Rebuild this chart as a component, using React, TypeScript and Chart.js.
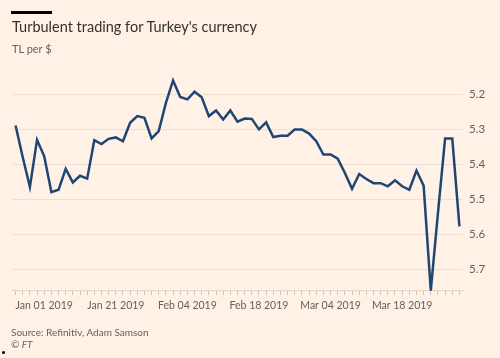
import React, { useEffect, useRef } from "react";
import { Chart, registerables } from "chart.js";

Chart.register(...registerables);

// TL per $ — one value per trading day (Jan – late Mar 2019)
const values: number[] = [
  5.289, 5.38, 5.465, 5.33, 5.377, 5.48, 5.473, 5.413, 5.452, 5.433,
  5.441, 5.331, 5.342, 5.327, 5.323, 5.334, 5.281, 5.262, 5.267, 5.326,
  5.305, 5.224, 5.16, 5.207, 5.214, 5.192, 5.208, 5.262, 5.246, 5.272,
  5.246, 5.278, 5.269, 5.27, 5.3, 5.28, 5.322, 5.318, 5.318, 5.3,
  5.3, 5.312, 5.334, 5.372, 5.372, 5.384, 5.425, 5.47, 5.428, 5.442,
  5.454, 5.454, 5.463, 5.446, 5.463, 5.473, 5.418, 5.461, 5.762, 5.54,
  5.326, 5.326, 5.578,
];

// x tick labels and the trading-day index each one sits on
const xTickLabels: string[] = [
  "Jan 01 2019",
  "Jan 21 2019",
  "Feb 04 2019",
  "Feb 18 2019",
  "Mar 04 2019",
  "Mar 18 2019",
];
const xTickIndex: number[] = [4, 14, 24, 34, 44, 54];

const yTicks: number[] = [5.2, 5.3, 5.4, 5.5, 5.6, 5.7];

const categories: string[] = values.map((_, i) => {
  const k = xTickIndex.indexOf(i);
  return k >= 0 ? xTickLabels[k] : "";
});

const FONT = "Lato, 'Open Sans', sans-serif";
const BG = "#FFF1E5";
const GREY = "#66605C";

export default function App() {
  const ref = useRef<HTMLCanvasElement | null>(null);

  useEffect(() => {
    document.body.style.margin = "0";
    const ctx = ref.current;
    if (!ctx) return;
    const chart = new Chart(ctx, {
      type: "line",
      data: {
        labels: categories,
        datasets: [
          {
            data: values,
            borderColor: "#1f4673",
            borderWidth: 2.5,
            pointRadius: 0,
            tension: 0,
            fill: false,
            clip: false as any,
          },
        ],
      },
      options: {
        responsive: false,
        animation: false,
        devicePixelRatio: 1,
        layout: { padding: { left: 12, top: 77, right: 0, bottom: 0 } },
        plugins: {
          legend: { display: false },
          tooltip: { enabled: false },
          title: { display: false },
        },
        scales: {
          x: {
            type: "category",
            offset: true,
            grid: {
              drawOnChartArea: false,
              drawTicks: true,
              tickLength: 5,
              color: "#cfc4ba",
            },
            border: { display: true, color: "#e3d6ca" },
            ticks: {
              autoSkip: false,
              maxRotation: 0,
              minRotation: 0,
              padding: 4,
              color: GREY,
              font: { family: FONT, size: 10.5 },
            },
            afterFit: (s: any) => {
              s.height = 68;
            },
          },
          y: {
            position: "right",
            reverse: true,
            min: 5.15,
            max: 5.76,
            grid: {
              drawTicks: false,
              color: "#ecdfd3",
              lineWidth: 1,
            },
            border: { display: false },
            afterBuildTicks: (s: any) => {
              s.ticks = yTicks.map((v) => ({ value: v }));
            },
            ticks: {
              padding: 6,
              color: GREY,
              font: { family: FONT, size: 11.5 },
              callback: (v: any) => Number(v).toFixed(1),
            },
            afterFit: (s: any) => {
              s.width = 37;
            },
          },
        },
      },
    });
    return () => chart.destroy();
  }, []);

  return (
    <div
      style={{
        position: "fixed",
        left: 0,
        top: 0,
        width: 500,
        height: 358,
        background: BG,
        overflow: "hidden",
        fontFamily: FONT,
      }}
    >
      <canvas
        ref={ref}
        width={500}
        height={358}
        style={{ position: "absolute", left: 0, top: 0, width: 500, height: 358 }}
      />
      <div
        style={{
          position: "absolute",
          left: 11,
          top: 11,
          width: 41,
          height: 3,
          background: "#000",
        }}
      />
      <div
        style={{
          position: "absolute",
          left: 12,
          top: 18,
          fontSize: 14.5,
          lineHeight: "18px",
          color: "#33302E",
          whiteSpace: "nowrap",
        }}
      >
        Turbulent trading for Turkey's currency
      </div>
      <div
        style={{
          position: "absolute",
          left: 12,
          top: 42,
          fontSize: 11,
          lineHeight: "14px",
          color: GREY,
        }}
      >
        TL per $
      </div>
      <div
        style={{
          position: "absolute",
          left: 11,
          top: 325,
          fontSize: 10,
          lineHeight: "14px",
          color: GREY,
          whiteSpace: "nowrap",
        }}
      >
        Source: Refinitiv, Adam Samson
      </div>
      <div
        style={{
          position: "absolute",
          left: 11,
          top: 337,
          fontSize: 10,
          lineHeight: "14px",
          color: GREY,
          fontStyle: "italic",
        }}
      >
        © FT
      </div>
      <div
        style={{
          position: "absolute",
          left: 2,
          top: 351,
          width: 3,
          height: 3,
          borderRadius: 2,
          background: "#000",
        }}
      />
    </div>
  );
}
